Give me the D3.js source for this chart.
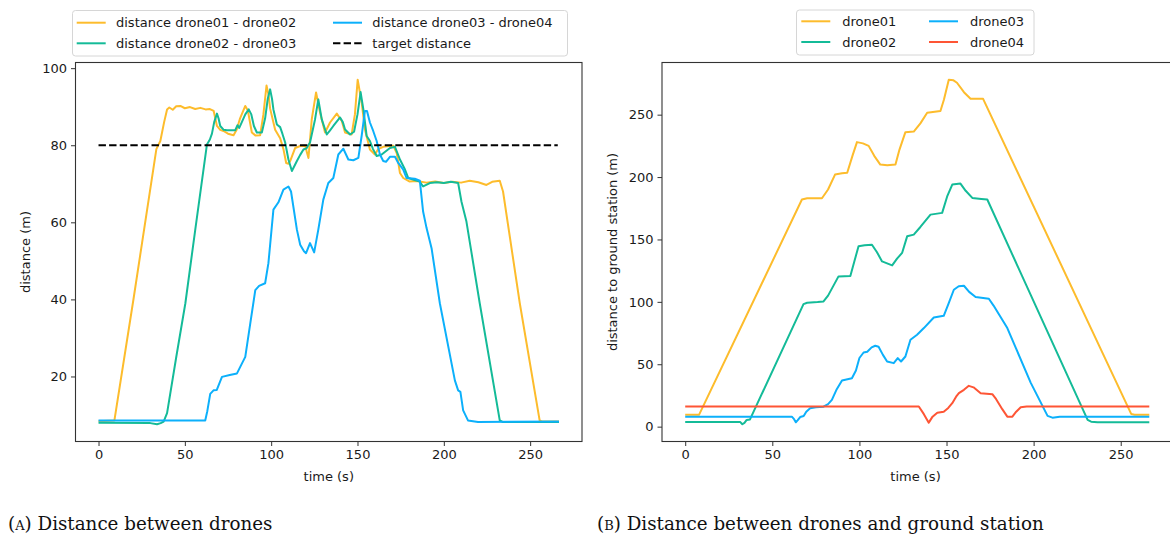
<!DOCTYPE html>
<html>
<head>
<meta charset="utf-8">
<script src="https://d3js.org/d3.v7.min.js"></script>
<style>
  body { margin: 0; background: #fff; }
  svg { display: block; font-family: "DejaVu Sans", sans-serif; }
</style>
</head>
<body>
<div id="chart"></div>
<script>
const width = 1170,
  height = 540;

// ---- panel A: distance between drones (time s, distance m)
const distD01D02 = [[0,8.4],[9.2,8.6],[20.4,40.5],[33.5,79],[35.8,81.1],[38,86],[39.7,89.3],[41,89.8],[43,89.2],[45,90.1],[47.4,90.2],[50,89.6],[53,89.9],[56,89.4],[59,89.7],[62,89.3],[64.5,89.4],[66.7,88.9],[68.6,85],[70.5,84],[72.4,83.7],[75,83],[78.2,82.6],[80,84],[82,87],[85,90.2],[86.5,89],[88.8,83.3],[91,82.5],[93.6,82.6],[95.5,88],[97.3,95.5],[98.5,93],[99.4,89.5],[102.3,84],[105.2,81.8],[107.1,79],[108.7,75.4],[110,75.2],[111,75.9],[113.9,79.3],[116.8,79.8],[119.7,79.9],[120.8,78],[121.6,76.7],[123.5,86.7],[126,93.7],[128.3,88.5],[131.2,83.3],[134.1,85.9],[138,88.2],[140.9,86.3],[142.8,83.3],[146.6,82.8],[148.5,88],[150.1,97],[152.4,91.1],[154.3,84.1],[157.2,78.9],[160.1,77.6],[162,79],[164.9,79.6],[170.7,79.9],[172.7,78],[174.6,72.8],[176.5,71.5],[180,70.6],[184.2,70.7],[190,70.3],[195,70.6],[200,70.2],[205,70.5],[210,70.3],[215,70.8],[220,70.4],[224.7,69.7],[228,70.5],[232.4,70.8],[234.3,68],[244,39],[255.5,8.6],[257,8.3],[266.7,8.3]];

const distD02D03 = [[0,8.0],[30,7.9],[33.9,7.6],[36,7.9],[37.7,8.3],[39.7,10.5],[45,25],[50.3,39],[56,58],[62.8,80.2],[64.5,81.5],[65.7,83],[67,86],[68.6,88.2],[69.5,87],[70.5,85],[72.5,84],[74.4,83.9],[79.2,83.9],[80.5,85.2],[81.5,84.5],[82.5,85.5],[85,88],[87,89.3],[88.5,88],[90,85],[91.7,83.3],[94.6,83.3],[96.5,87],[98,92],[99.4,94.5],[100.5,92],[101.3,89.3],[103.3,85.4],[105.2,84.7],[106.5,83],[108.1,80.7],[110,76.3],[112,73.3],[114.9,75.9],[116.8,77.5],[118.7,78.9],[120.5,79.2],[122.5,80.7],[125.4,86.7],[127.3,91.9],[129.3,86.7],[132.2,82.8],[134,83.8],[136,85],[139.9,87.2],[141.5,86],[142.8,84.1],[145.7,82.8],[148,83.5],[150,88],[151.8,93.8],[153.4,89.3],[155.3,82.4],[157.2,81.1],[159,79],[161.1,77.2],[164,77.6],[168.8,79.3],[171.7,79.6],[174.6,76.3],[177.5,73.7],[179.4,71.5],[183,71],[186,70.6],[188,69.3],[191.9,70.2],[196,70.4],[200,70.2],[204,70.5],[208.3,70.2],[210.2,65.4],[213.1,60.2],[220.8,39],[232.4,8.6],[234,8.2],[266.7,8.2]];

const distD03D04 = [[0,8.6],[61.8,8.6],[63,11],[64.7,15.5],[66.6,16.4],[68.5,16.5],[71.5,19.9],[76,20.4],[80.2,20.8],[83.1,23.4],[85,25.1],[87.9,33.8],[90.8,42.4],[93,43.5],[96.5,44.2],[98.4,49.4],[101.3,63.3],[104.2,65.2],[107.1,68.5],[110,69.3],[111.5,68],[114.9,58.1],[116.8,54.2],[119,52.5],[120.2,52],[122.5,54.6],[124.9,52.2],[127.3,58.1],[130.2,65.9],[133.1,70.2],[136,71.5],[138.9,77.6],[141.8,79.1],[144.7,76.3],[147.6,76.1],[150.5,76.7],[152.4,82.4],[154.3,88.9],[155.5,88.9],[157.2,85.9],[159.1,83.7],[161.1,81.1],[163,77.6],[164.9,75.9],[166.5,75.7],[168.8,77],[171.7,77],[173.6,75.4],[176.5,73.7],[178.4,71.5],[183.2,71.3],[186.1,70.8],[188,62.8],[190,58.5],[192.9,53.3],[197.7,39],[206.4,19],[208.3,16.4],[209.6,16],[211.2,11.2],[214,8.6],[219.8,8.2],[266.7,8.3]];

const targetDistance = [[0,80],[266,80]];

// ---- panel B: distance to ground station (time s, distance m)
const groundD01 = [[0,9.6],[8,9.6],[67,182],[70,183],[78.5,183],[82,190],[86,202],[90,203],[93,203.5],[96,217],[98.6,228],[102,227],[105.3,225],[108.5,217],[112,210],[116,209.5],[120.7,210],[123,222],[126.4,236],[131.2,236.5],[135,243],[138.9,251.5],[146.5,253],[148.5,262],[151.3,278],[154,277.5],[156,275.6],[160,268],[163.8,262.7],[171,262.7],[256,10.2],[258,9.6],[266.4,9.6]];

const groundD02 = [[0,3.8],[31.5,3.8],[32.8,1.9],[34,3],[35.3,5.4],[37.2,5.8],[67.9,98.2],[70,99.3],[76,99.8],[79.4,100.3],[82,105],[88,120.4],[94.8,120.8],[97,132],[99.5,144.5],[103,145.3],[107.2,145.8],[110,140],[113,132.4],[118.8,129.2],[121.6,134.6],[124.5,139.2],[127.4,152.5],[131.2,153.9],[135,160],[140.8,169.9],[147.5,171.3],[150.5,185],[153.3,194],[158,194.8],[161,189],[164.8,183.3],[170,182.5],[173.4,182],[231,5.4],[233,4],[236.7,3.5],[266.4,3.5]];

const groundD03 = [[0,8],[61.2,8],[62.5,6],[63.5,3.5],[64.5,5],[66,7.7],[68,8.5],[69.5,12],[71.7,14.7],[75,15.5],[79.4,16],[82,18],[84.2,21.4],[87,30],[90,37],[95.7,38.8],[98,45],[100,55],[102.4,59.4],[104.5,60],[107,63.5],[109.1,64.8],[111,64],[113.5,57.5],[115.9,52.2],[119.7,50.9],[122,54.9],[123.9,52.2],[126.4,56.2],[129.3,69.6],[133.1,73.6],[137,79],[142.7,87.5],[148.4,88.8],[151,98],[154.2,109.7],[157,112.5],[160,112.9],[163,108],[166.7,103.9],[174.3,102.5],[177,97],[184.9,79],[198.3,35.3],[208,8.6],[210.8,7.2],[215,8],[266.4,8]];

const groundD04 = [[0,16.2],[134.1,16.2],[137,10],[139.8,3.2],[142,8],[144.7,11.2],[148.4,12],[151,15],[153.3,18.8],[155.5,24],[157.1,26.8],[160,29.5],[162.8,32.7],[165.5,31.5],[169.6,26.8],[176.3,26],[178.5,22],[182,14],[184.9,8],[187.8,8],[190,12],[192.6,15.6],[196,16.2],[266.4,16.2]];

const xTicks = [0, 50, 100, 150, 200, 250];
const yTicksA = [20, 40, 60, 80, 100];
const yTicksB = [0, 50, 100, 150, 200, 250];

const colors = {
  yellow: '#fdbc2c',
  green: '#14bb98',
  blue: '#0cb0fb',
  red: '#fe5535' };


const svg = d3.select('#chart').
append('svg').
attr('width', width).
attr('height', height);

// matplotlib style auto margins: 5% padding of data extent
function padded(ext) {
  const p = (ext[1] - ext[0]) * 0.05;
  return [ext[0] - p, ext[1] + p];
}

function drawPanel(opt) {
  const all = opt.series.flatMap(s => s.data);
  const x = d3.scaleLinear().
  domain(padded(d3.extent(all, d => d[0]))).
  range([opt.left, opt.right]);
  const y = d3.scaleLinear().
  domain(padded(d3.extent(all, d => d[1]))).
  range([opt.bottom, opt.top]);

  const g = svg.append('g');

  const clipId = 'clip' + opt.id;
  g.append('clipPath').attr('id', clipId).
  append('rect').
  attr('x', opt.left).attr('y', opt.top).
  attr('width', opt.right - opt.left).attr('height', opt.bottom - opt.top);

  const line = d3.line().
  x(d => x(d[0])).
  y(d => y(d[1]));

  g.append('g').attr('clip-path', `url(#${clipId})`).
  selectAll('path').
  data(opt.series).
  enter().
  append('path').
  attr('d', s => line(s.data)).
  attr('fill', 'none').
  attr('stroke', s => s.color).
  attr('stroke-width', 2).
  attr('stroke-dasharray', s => s.dash || null).
  attr('stroke-linejoin', 'round');

  const xAxis = g.append('g').
  attr('transform', `translate(0,${opt.bottom})`).
  call(d3.axisBottom(x).tickValues(xTicks).tickSize(4.5).tickPadding(4));
  const yAxis = g.append('g').
  attr('transform', `translate(${opt.left},0)`).
  call(d3.axisLeft(y).tickValues(opt.yTicks).tickSize(4.5).tickPadding(4));

  [xAxis, yAxis].forEach(a => {
    a.select('.domain').remove();
    a.selectAll('line').attr('stroke', '#333').attr('stroke-width', 1);
    a.selectAll('text').
    attr('fill', '#1a1a1a').
    style('font-family', '"DejaVu Sans", sans-serif').
    style('font-size', '13px');
  });

  // frame
  g.append('rect').
  attr('x', opt.left).attr('y', opt.top).
  attr('width', opt.right - opt.left).attr('height', opt.bottom - opt.top).
  attr('fill', 'none').
  attr('stroke', '#333').
  attr('stroke-width', 1.1);

  g.append('text').
  attr('x', (opt.left + Math.min(opt.right, width)) / 2 + opt.xLabelShift).
  attr('y', 481).
  attr('text-anchor', 'middle').
  style('font-size', '13px').
  attr('fill', '#1a1a1a').
  text('time (s)');

  g.append('text').
  attr('transform', `translate(${opt.yLabelX},${(opt.top + opt.bottom) / 2}) rotate(-90)`).
  attr('text-anchor', 'middle').
  style('font-size', '13px').
  attr('fill', '#1a1a1a').
  text(opt.yLabel);

  // legend
  const lg = svg.append('g');
  lg.append('rect').
  attr('x', opt.legend.x).attr('y', opt.legend.y).
  attr('width', opt.legend.w).attr('height', opt.legend.h).
  attr('rx', 3).
  attr('fill', '#fff').
  attr('stroke', '#d6d6d6').
  attr('stroke-width', 1);

  opt.series.forEach((s, i) => {
    const col = Math.floor(i / 2),
    row = i % 2;
    const lx = opt.legend.cols[col],
    ly = opt.legend.rows[row];
    lg.append('line').
    attr('x1', lx).attr('x2', lx + 29).
    attr('y1', ly).attr('y2', ly).
    attr('stroke', s.color).
    attr('stroke-width', 2).
    attr('stroke-dasharray', s.dash || null);
    lg.append('text').
    attr('x', lx + opt.legend.textGap).
    attr('y', ly + 4.6).
    style('font-size', '13px').
    attr('fill', '#1a1a1a').
    text(s.name);
  });

  // caption
  const cap = svg.append('text').
  attr('x', opt.captionX).
  attr('y', 530).
  style('font-family', '"DejaVu Serif", serif').
  style('font-size', '18.3px').
  attr('fill', '#111');
  cap.append('tspan').text('(');
  cap.append('tspan').style('font-variant', 'small-caps').text(opt.captionTag);
  cap.append('tspan').text(') ' + opt.caption);
}

drawPanel({
  id: 'A',
  left: 75.5, right: 582, top: 62.5, bottom: 441.5,
  yTicks: yTicksA,
  yLabel: 'distance (m)',
  yLabelX: 30,
  xLabelShift: 0,
  series: [
  { name: 'distance drone01 - drone02', data: distD01D02, color: colors.yellow },
  { name: 'distance drone02 - drone03', data: distD02D03, color: colors.green },
  { name: 'distance drone03 - drone04', data: distD03D04, color: colors.blue },
  { name: 'target distance', data: targetDistance, color: '#000', dash: '7.4,3.2' }],

  legend: { x: 72.5, y: 10.5, w: 495, h: 45.5, cols: [76.7, 333], rows: [22.7, 43.3], textGap: 39.3 },
  captionX: 8,
  captionTag: 'a',
  caption: 'Distance between drones' });


drawPanel({
  id: 'B',
  left: 662, right: 1172.5, top: 62.5, bottom: 441.5,
  yTicks: yTicksB,
  yLabel: 'distance to ground station (m)',
  yLabelX: 616.5,
  xLabelShift: -0.5,
  series: [
  { name: 'drone01', data: groundD01, color: colors.yellow },
  { name: 'drone02', data: groundD02, color: colors.green },
  { name: 'drone03', data: groundD03, color: colors.blue },
  { name: 'drone04', data: groundD04, color: colors.red }],

  legend: { x: 796.5, y: 10, w: 237.5, h: 45, cols: [801.3, 929], rows: [21.3, 42], textGap: 41 },
  captionX: 597,
  captionTag: 'b',
  caption: 'Distance between drones and ground station' });
</script>
</body>
</html>
